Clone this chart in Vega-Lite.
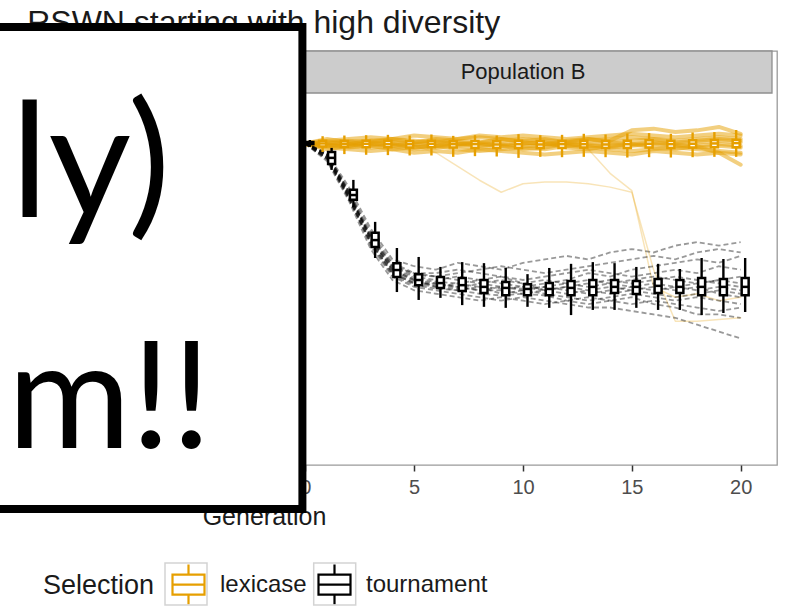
{
"$schema": "https://vega.github.io/schema/vega-lite/v6.json",
"width": 508, "height": 414,
"autosize": {"type": "none"},
"padding": {"left": 269, "top": 51, "right": 13, "bottom": 147},
"background": "white",
"config": {"view": {"stroke": "#9a9a9a", "strokeWidth": 1.3}},
"data": {"values": [{}]},
"datasets": {
"stats": [
{"sel":"tournament","gen":0,"lo":0.887,"q1":0.895,"med":0.898,"q3":0.901,"hi":0.907},
{"sel":"tournament","gen":1,"lo":0.820,"q1":0.837,"med":0.855,"q3":0.872,"hi":0.884},
{"sel":"tournament","gen":2,"lo":0.712,"q1":0.733,"med":0.747,"q3":0.762,"hi":0.791},
{"sel":"tournament","gen":3,"lo":0.564,"q1":0.596,"med":0.616,"q3":0.637,"hi":0.669},
{"sel":"tournament","gen":4,"lo":0.465,"q1":0.509,"med":0.529,"q3":0.549,"hi":0.593},
{"sel":"tournament","gen":5,"lo":0.442,"q1":0.485,"med":0.500,"q3":0.517,"hi":0.567},
{"sel":"tournament","gen":6,"lo":0.448,"q1":0.477,"med":0.491,"q3":0.509,"hi":0.538},
{"sel":"tournament","gen":7,"lo":0.427,"q1":0.468,"med":0.485,"q3":0.506,"hi":0.552},
{"sel":"tournament","gen":8,"lo":0.422,"q1":0.462,"med":0.480,"q3":0.500,"hi":0.549},
{"sel":"tournament","gen":9,"lo":0.419,"q1":0.456,"med":0.477,"q3":0.494,"hi":0.535},
{"sel":"tournament","gen":10,"lo":0.422,"q1":0.456,"med":0.474,"q3":0.488,"hi":0.517},
{"sel":"tournament","gen":11,"lo":0.419,"q1":0.456,"med":0.474,"q3":0.491,"hi":0.535},
{"sel":"tournament","gen":12,"lo":0.398,"q1":0.456,"med":0.477,"q3":0.497,"hi":0.547},
{"sel":"tournament","gen":13,"lo":0.413,"q1":0.456,"med":0.480,"q3":0.500,"hi":0.552},
{"sel":"tournament","gen":14,"lo":0.413,"q1":0.462,"med":0.480,"q3":0.500,"hi":0.549},
{"sel":"tournament","gen":15,"lo":0.419,"q1":0.459,"med":0.480,"q3":0.497,"hi":0.538},
{"sel":"tournament","gen":16,"lo":0.413,"q1":0.462,"med":0.483,"q3":0.503,"hi":0.547},
{"sel":"tournament","gen":17,"lo":0.413,"q1":0.462,"med":0.480,"q3":0.500,"hi":0.532},
{"sel":"tournament","gen":18,"lo":0.398,"q1":0.456,"med":0.480,"q3":0.506,"hi":0.564},
{"sel":"tournament","gen":19,"lo":0.404,"q1":0.456,"med":0.480,"q3":0.503,"hi":0.561},
{"sel":"tournament","gen":20,"lo":0.407,"q1":0.456,"med":0.480,"q3":0.506,"hi":0.564},
{"sel":"lexicase","gen":0,"lo":0.889,"q1":0.894,"med":0.897,"q3":0.900,"hi":0.905},
{"sel":"lexicase","gen":1,"lo":0.872,"q1":0.888,"med":0.897,"q3":0.905,"hi":0.918},
{"sel":"lexicase","gen":2,"lo":0.866,"q1":0.887,"med":0.896,"q3":0.904,"hi":0.920},
{"sel":"lexicase","gen":3,"lo":0.864,"q1":0.886,"med":0.896,"q3":0.905,"hi":0.921},
{"sel":"lexicase","gen":4,"lo":0.863,"q1":0.886,"med":0.895,"q3":0.905,"hi":0.922},
{"sel":"lexicase","gen":5,"lo":0.862,"q1":0.885,"med":0.895,"q3":0.904,"hi":0.920},
{"sel":"lexicase","gen":6,"lo":0.862,"q1":0.886,"med":0.896,"q3":0.905,"hi":0.923},
{"sel":"lexicase","gen":7,"lo":0.858,"q1":0.885,"med":0.895,"q3":0.903,"hi":0.919},
{"sel":"lexicase","gen":8,"lo":0.860,"q1":0.884,"med":0.895,"q3":0.904,"hi":0.921},
{"sel":"lexicase","gen":9,"lo":0.859,"q1":0.884,"med":0.894,"q3":0.903,"hi":0.920},
{"sel":"lexicase","gen":10,"lo":0.855,"q1":0.884,"med":0.895,"q3":0.905,"hi":0.924},
{"sel":"lexicase","gen":11,"lo":0.858,"q1":0.884,"med":0.894,"q3":0.904,"hi":0.921},
{"sel":"lexicase","gen":12,"lo":0.857,"q1":0.884,"med":0.895,"q3":0.904,"hi":0.922},
{"sel":"lexicase","gen":13,"lo":0.858,"q1":0.885,"med":0.895,"q3":0.905,"hi":0.925},
{"sel":"lexicase","gen":14,"lo":0.857,"q1":0.884,"med":0.894,"q3":0.904,"hi":0.923},
{"sel":"lexicase","gen":15,"lo":0.856,"q1":0.884,"med":0.895,"q3":0.905,"hi":0.926},
{"sel":"lexicase","gen":16,"lo":0.857,"q1":0.885,"med":0.896,"q3":0.906,"hi":0.927},
{"sel":"lexicase","gen":17,"lo":0.856,"q1":0.884,"med":0.895,"q3":0.905,"hi":0.925},
{"sel":"lexicase","gen":18,"lo":0.857,"q1":0.885,"med":0.896,"q3":0.906,"hi":0.929},
{"sel":"lexicase","gen":19,"lo":0.858,"q1":0.886,"med":0.897,"q3":0.907,"hi":0.930},
{"sel":"lexicase","gen":20,"lo":0.858,"q1":0.886,"med":0.898,"q3":0.908,"hi":0.936}
],
"lex": [
{"sel":"lexicase","run":1,"gen":0,"val":0.897},{"sel":"lexicase","run":1,"gen":1,"val":0.900},{"sel":"lexicase","run":1,"gen":2,"val":0.905},{"sel":"lexicase","run":1,"gen":3,"val":0.900},{"sel":"lexicase","run":1,"gen":4,"val":0.910},{"sel":"lexicase","run":1,"gen":5,"val":0.905},{"sel":"lexicase","run":1,"gen":6,"val":0.900},{"sel":"lexicase","run":1,"gen":7,"val":0.910},{"sel":"lexicase","run":1,"gen":8,"val":0.915},{"sel":"lexicase","run":1,"gen":9,"val":0.910},{"sel":"lexicase","run":1,"gen":10,"val":0.905},{"sel":"lexicase","run":1,"gen":11,"val":0.910},{"sel":"lexicase","run":1,"gen":12,"val":0.900},{"sel":"lexicase","run":1,"gen":13,"val":0.905},{"sel":"lexicase","run":1,"gen":14,"val":0.910},{"sel":"lexicase","run":1,"gen":15,"val":0.915},{"sel":"lexicase","run":1,"gen":16,"val":0.910},{"sel":"lexicase","run":1,"gen":17,"val":0.905},{"sel":"lexicase","run":1,"gen":18,"val":0.910},{"sel":"lexicase","run":1,"gen":19,"val":0.915},{"sel":"lexicase","run":1,"gen":20,"val":0.910},
{"sel":"lexicase","run":2,"gen":0,"val":0.895},{"sel":"lexicase","run":2,"gen":1,"val":0.890},{"sel":"lexicase","run":2,"gen":2,"val":0.885},{"sel":"lexicase","run":2,"gen":3,"val":0.890},{"sel":"lexicase","run":2,"gen":4,"val":0.880},{"sel":"lexicase","run":2,"gen":5,"val":0.885},{"sel":"lexicase","run":2,"gen":6,"val":0.890},{"sel":"lexicase","run":2,"gen":7,"val":0.880},{"sel":"lexicase","run":2,"gen":8,"val":0.875},{"sel":"lexicase","run":2,"gen":9,"val":0.880},{"sel":"lexicase","run":2,"gen":10,"val":0.885},{"sel":"lexicase","run":2,"gen":11,"val":0.880},{"sel":"lexicase","run":2,"gen":12,"val":0.890},{"sel":"lexicase","run":2,"gen":13,"val":0.885},{"sel":"lexicase","run":2,"gen":14,"val":0.880},{"sel":"lexicase","run":2,"gen":15,"val":0.875},{"sel":"lexicase","run":2,"gen":16,"val":0.880},{"sel":"lexicase","run":2,"gen":17,"val":0.885},{"sel":"lexicase","run":2,"gen":18,"val":0.880},{"sel":"lexicase","run":2,"gen":19,"val":0.875},{"sel":"lexicase","run":2,"gen":20,"val":0.870},
{"sel":"lexicase","run":3,"gen":0,"val":0.896},{"sel":"lexicase","run":3,"gen":1,"val":0.895},{"sel":"lexicase","run":3,"gen":2,"val":0.900},{"sel":"lexicase","run":3,"gen":3,"val":0.895},{"sel":"lexicase","run":3,"gen":4,"val":0.890},{"sel":"lexicase","run":3,"gen":5,"val":0.895},{"sel":"lexicase","run":3,"gen":6,"val":0.900},{"sel":"lexicase","run":3,"gen":7,"val":0.895},{"sel":"lexicase","run":3,"gen":8,"val":0.890},{"sel":"lexicase","run":3,"gen":9,"val":0.895},{"sel":"lexicase","run":3,"gen":10,"val":0.900},{"sel":"lexicase","run":3,"gen":11,"val":0.895},{"sel":"lexicase","run":3,"gen":12,"val":0.890},{"sel":"lexicase","run":3,"gen":13,"val":0.895},{"sel":"lexicase","run":3,"gen":14,"val":0.900},{"sel":"lexicase","run":3,"gen":15,"val":0.895},{"sel":"lexicase","run":3,"gen":16,"val":0.900},{"sel":"lexicase","run":3,"gen":17,"val":0.895},{"sel":"lexicase","run":3,"gen":18,"val":0.900},{"sel":"lexicase","run":3,"gen":19,"val":0.905},{"sel":"lexicase","run":3,"gen":20,"val":0.900},
{"sel":"lexicase","run":4,"gen":0,"val":0.894},{"sel":"lexicase","run":4,"gen":1,"val":0.885},{"sel":"lexicase","run":4,"gen":2,"val":0.880},{"sel":"lexicase","run":4,"gen":3,"val":0.875},{"sel":"lexicase","run":4,"gen":4,"val":0.880},{"sel":"lexicase","run":4,"gen":5,"val":0.870},{"sel":"lexicase","run":4,"gen":6,"val":0.875},{"sel":"lexicase","run":4,"gen":7,"val":0.870},{"sel":"lexicase","run":4,"gen":8,"val":0.880},{"sel":"lexicase","run":4,"gen":9,"val":0.875},{"sel":"lexicase","run":4,"gen":10,"val":0.870},{"sel":"lexicase","run":4,"gen":11,"val":0.865},{"sel":"lexicase","run":4,"gen":12,"val":0.870},{"sel":"lexicase","run":4,"gen":13,"val":0.875},{"sel":"lexicase","run":4,"gen":14,"val":0.870},{"sel":"lexicase","run":4,"gen":15,"val":0.865},{"sel":"lexicase","run":4,"gen":16,"val":0.875},{"sel":"lexicase","run":4,"gen":17,"val":0.870},{"sel":"lexicase","run":4,"gen":18,"val":0.865},{"sel":"lexicase","run":4,"gen":19,"val":0.870},{"sel":"lexicase","run":4,"gen":20,"val":0.865},
{"sel":"lexicase","run":5,"gen":0,"val":0.898},{"sel":"lexicase","run":5,"gen":1,"val":0.905},{"sel":"lexicase","run":5,"gen":2,"val":0.910},{"sel":"lexicase","run":5,"gen":3,"val":0.915},{"sel":"lexicase","run":5,"gen":4,"val":0.910},{"sel":"lexicase","run":5,"gen":5,"val":0.920},{"sel":"lexicase","run":5,"gen":6,"val":0.915},{"sel":"lexicase","run":5,"gen":7,"val":0.910},{"sel":"lexicase","run":5,"gen":8,"val":0.920},{"sel":"lexicase","run":5,"gen":9,"val":0.915},{"sel":"lexicase","run":5,"gen":10,"val":0.920},{"sel":"lexicase","run":5,"gen":11,"val":0.915},{"sel":"lexicase","run":5,"gen":12,"val":0.910},{"sel":"lexicase","run":5,"gen":13,"val":0.915},{"sel":"lexicase","run":5,"gen":14,"val":0.920},{"sel":"lexicase","run":5,"gen":15,"val":0.925},{"sel":"lexicase","run":5,"gen":16,"val":0.920},{"sel":"lexicase","run":5,"gen":17,"val":0.915},{"sel":"lexicase","run":5,"gen":18,"val":0.920},{"sel":"lexicase","run":5,"gen":19,"val":0.925},{"sel":"lexicase","run":5,"gen":20,"val":0.920},
{"sel":"lexicase","run":6,"gen":0,"val":0.895},{"sel":"lexicase","run":6,"gen":1,"val":0.890},{"sel":"lexicase","run":6,"gen":2,"val":0.895},{"sel":"lexicase","run":6,"gen":3,"val":0.885},{"sel":"lexicase","run":6,"gen":4,"val":0.890},{"sel":"lexicase","run":6,"gen":5,"val":0.880},{"sel":"lexicase","run":6,"gen":6,"val":0.885},{"sel":"lexicase","run":6,"gen":7,"val":0.890},{"sel":"lexicase","run":6,"gen":8,"val":0.885},{"sel":"lexicase","run":6,"gen":9,"val":0.890},{"sel":"lexicase","run":6,"gen":10,"val":0.880},{"sel":"lexicase","run":6,"gen":11,"val":0.885},{"sel":"lexicase","run":6,"gen":12,"val":0.895},{"sel":"lexicase","run":6,"gen":13,"val":0.890},{"sel":"lexicase","run":6,"gen":14,"val":0.885},{"sel":"lexicase","run":6,"gen":15,"val":0.890},{"sel":"lexicase","run":6,"gen":16,"val":0.895},{"sel":"lexicase","run":6,"gen":17,"val":0.890},{"sel":"lexicase","run":6,"gen":18,"val":0.885},{"sel":"lexicase","run":6,"gen":19,"val":0.890},{"sel":"lexicase","run":6,"gen":20,"val":0.885},
{"sel":"lexicase","run":7,"gen":0,"val":0.897},{"sel":"lexicase","run":7,"gen":1,"val":0.900},{"sel":"lexicase","run":7,"gen":2,"val":0.895},{"sel":"lexicase","run":7,"gen":3,"val":0.905},{"sel":"lexicase","run":7,"gen":4,"val":0.900},{"sel":"lexicase","run":7,"gen":5,"val":0.900},{"sel":"lexicase","run":7,"gen":6,"val":0.905},{"sel":"lexicase","run":7,"gen":7,"val":0.895},{"sel":"lexicase","run":7,"gen":8,"val":0.900},{"sel":"lexicase","run":7,"gen":9,"val":0.905},{"sel":"lexicase","run":7,"gen":10,"val":0.910},{"sel":"lexicase","run":7,"gen":11,"val":0.905},{"sel":"lexicase","run":7,"gen":12,"val":0.900},{"sel":"lexicase","run":7,"gen":13,"val":0.910},{"sel":"lexicase","run":7,"gen":14,"val":0.905},{"sel":"lexicase","run":7,"gen":15,"val":0.935},{"sel":"lexicase","run":7,"gen":16,"val":0.940},{"sel":"lexicase","run":7,"gen":17,"val":0.930},{"sel":"lexicase","run":7,"gen":18,"val":0.935},{"sel":"lexicase","run":7,"gen":19,"val":0.945},{"sel":"lexicase","run":7,"gen":20,"val":0.925},
{"sel":"lexicase","run":8,"gen":0,"val":0.896},{"sel":"lexicase","run":8,"gen":1,"val":0.893},{"sel":"lexicase","run":8,"gen":2,"val":0.888},{"sel":"lexicase","run":8,"gen":3,"val":0.893},{"sel":"lexicase","run":8,"gen":4,"val":0.898},{"sel":"lexicase","run":8,"gen":5,"val":0.893},{"sel":"lexicase","run":8,"gen":6,"val":0.888},{"sel":"lexicase","run":8,"gen":7,"val":0.893},{"sel":"lexicase","run":8,"gen":8,"val":0.898},{"sel":"lexicase","run":8,"gen":9,"val":0.893},{"sel":"lexicase","run":8,"gen":10,"val":0.888},{"sel":"lexicase","run":8,"gen":11,"val":0.893},{"sel":"lexicase","run":8,"gen":12,"val":0.898},{"sel":"lexicase","run":8,"gen":13,"val":0.893},{"sel":"lexicase","run":8,"gen":14,"val":0.888},{"sel":"lexicase","run":8,"gen":15,"val":0.893},{"sel":"lexicase","run":8,"gen":16,"val":0.898},{"sel":"lexicase","run":8,"gen":17,"val":0.893},{"sel":"lexicase","run":8,"gen":18,"val":0.888},{"sel":"lexicase","run":8,"gen":19,"val":0.870},{"sel":"lexicase","run":8,"gen":20,"val":0.835},
{"sel":"lexicase","run":9,"gen":0,"val":0.895},{"sel":"lexicase","run":9,"gen":1,"val":0.880},{"sel":"lexicase","run":9,"gen":2,"val":0.890},{"sel":"lexicase","run":9,"gen":3,"val":0.900},{"sel":"lexicase","run":9,"gen":4,"val":0.895},{"sel":"lexicase","run":9,"gen":5,"val":0.885},{"sel":"lexicase","run":9,"gen":6,"val":0.890},{"sel":"lexicase","run":9,"gen":7,"val":0.900},{"sel":"lexicase","run":9,"gen":8,"val":0.895},{"sel":"lexicase","run":9,"gen":9,"val":0.890},{"sel":"lexicase","run":9,"gen":10,"val":0.895},{"sel":"lexicase","run":9,"gen":11,"val":0.900},{"sel":"lexicase","run":9,"gen":12,"val":0.885},{"sel":"lexicase","run":9,"gen":13,"val":0.880},{"sel":"lexicase","run":9,"gen":14,"val":0.890},{"sel":"lexicase","run":9,"gen":15,"val":0.895},{"sel":"lexicase","run":9,"gen":16,"val":0.885},{"sel":"lexicase","run":9,"gen":17,"val":0.880},{"sel":"lexicase","run":9,"gen":18,"val":0.890},{"sel":"lexicase","run":9,"gen":19,"val":0.895},{"sel":"lexicase","run":9,"gen":20,"val":0.890},
{"sel":"lexicase","run":10,"gen":0,"val":0.897},{"sel":"lexicase","run":10,"gen":1,"val":0.910},{"sel":"lexicase","run":10,"gen":2,"val":0.900},{"sel":"lexicase","run":10,"gen":3,"val":0.905},{"sel":"lexicase","run":10,"gen":4,"val":0.910},{"sel":"lexicase","run":10,"gen":5,"val":0.900},{"sel":"lexicase","run":10,"gen":6,"val":0.910},{"sel":"lexicase","run":10,"gen":7,"val":0.905},{"sel":"lexicase","run":10,"gen":8,"val":0.900},{"sel":"lexicase","run":10,"gen":9,"val":0.910},{"sel":"lexicase","run":10,"gen":10,"val":0.900},{"sel":"lexicase","run":10,"gen":11,"val":0.895},{"sel":"lexicase","run":10,"gen":12,"val":0.905},{"sel":"lexicase","run":10,"gen":13,"val":0.910},{"sel":"lexicase","run":10,"gen":14,"val":0.900},{"sel":"lexicase","run":10,"gen":15,"val":0.905},{"sel":"lexicase","run":10,"gen":16,"val":0.910},{"sel":"lexicase","run":10,"gen":17,"val":0.900},{"sel":"lexicase","run":10,"gen":18,"val":0.905},{"sel":"lexicase","run":10,"gen":19,"val":0.910},{"sel":"lexicase","run":10,"gen":20,"val":0.905},
{"sel":"lexicase","run":11,"gen":0,"val":0.896},{"sel":"lexicase","run":11,"gen":1,"val":0.895},{"sel":"lexicase","run":11,"gen":2,"val":0.890},{"sel":"lexicase","run":11,"gen":3,"val":0.895},{"sel":"lexicase","run":11,"gen":4,"val":0.890},{"sel":"lexicase","run":11,"gen":5,"val":0.890},{"sel":"lexicase","run":11,"gen":6,"val":0.870},{"sel":"lexicase","run":11,"gen":7,"val":0.830},{"sel":"lexicase","run":11,"gen":8,"val":0.790},{"sel":"lexicase","run":11,"gen":9,"val":0.755},{"sel":"lexicase","run":11,"gen":10,"val":0.780},{"sel":"lexicase","run":11,"gen":11,"val":0.785},{"sel":"lexicase","run":11,"gen":12,"val":0.785},{"sel":"lexicase","run":11,"gen":13,"val":0.780},{"sel":"lexicase","run":11,"gen":14,"val":0.770},{"sel":"lexicase","run":11,"gen":15,"val":0.755},{"sel":"lexicase","run":11,"gen":16,"val":0.530},{"sel":"lexicase","run":11,"gen":17,"val":0.380},{"sel":"lexicase","run":11,"gen":18,"val":0.380},{"sel":"lexicase","run":11,"gen":19,"val":0.385},{"sel":"lexicase","run":11,"gen":20,"val":0.390},
{"sel":"lexicase","run":12,"gen":0,"val":0.895},{"sel":"lexicase","run":12,"gen":1,"val":0.890},{"sel":"lexicase","run":12,"gen":2,"val":0.895},{"sel":"lexicase","run":12,"gen":3,"val":0.890},{"sel":"lexicase","run":12,"gen":4,"val":0.895},{"sel":"lexicase","run":12,"gen":5,"val":0.890},{"sel":"lexicase","run":12,"gen":6,"val":0.895},{"sel":"lexicase","run":12,"gen":7,"val":0.890},{"sel":"lexicase","run":12,"gen":8,"val":0.895},{"sel":"lexicase","run":12,"gen":9,"val":0.890},{"sel":"lexicase","run":12,"gen":10,"val":0.895},{"sel":"lexicase","run":12,"gen":11,"val":0.890},{"sel":"lexicase","run":12,"gen":12,"val":0.895},{"sel":"lexicase","run":12,"gen":13,"val":0.880},{"sel":"lexicase","run":12,"gen":14,"val":0.810},{"sel":"lexicase","run":12,"gen":15,"val":0.760},{"sel":"lexicase","run":12,"gen":16,"val":0.480},{"sel":"lexicase","run":12,"gen":17,"val":0.450},{"sel":"lexicase","run":12,"gen":18,"val":0.460},{"sel":"lexicase","run":12,"gen":19,"val":0.440},{"sel":"lexicase","run":12,"gen":20,"val":0.450}
],
"tour": [
{"sel":"tournament","run":1,"gen":0,"val":0.898},{"sel":"tournament","run":1,"gen":1,"val":0.862},{"sel":"tournament","run":1,"gen":2,"val":0.752},{"sel":"tournament","run":1,"gen":3,"val":0.620},{"sel":"tournament","run":1,"gen":4,"val":0.530},{"sel":"tournament","run":1,"gen":5,"val":0.500},{"sel":"tournament","run":1,"gen":6,"val":0.490},{"sel":"tournament","run":1,"gen":7,"val":0.480},{"sel":"tournament","run":1,"gen":8,"val":0.470},{"sel":"tournament","run":1,"gen":9,"val":0.470},{"sel":"tournament","run":1,"gen":10,"val":0.460},{"sel":"tournament","run":1,"gen":11,"val":0.470},{"sel":"tournament","run":1,"gen":12,"val":0.480},{"sel":"tournament","run":1,"gen":13,"val":0.490},{"sel":"tournament","run":1,"gen":14,"val":0.500},{"sel":"tournament","run":1,"gen":15,"val":0.490},{"sel":"tournament","run":1,"gen":16,"val":0.500},{"sel":"tournament","run":1,"gen":17,"val":0.510},{"sel":"tournament","run":1,"gen":18,"val":0.500},{"sel":"tournament","run":1,"gen":19,"val":0.490},{"sel":"tournament","run":1,"gen":20,"val":0.480},
{"sel":"tournament","run":2,"gen":0,"val":0.897},{"sel":"tournament","run":2,"gen":1,"val":0.855},{"sel":"tournament","run":2,"gen":2,"val":0.740},{"sel":"tournament","run":2,"gen":3,"val":0.600},{"sel":"tournament","run":2,"gen":4,"val":0.510},{"sel":"tournament","run":2,"gen":5,"val":0.480},{"sel":"tournament","run":2,"gen":6,"val":0.470},{"sel":"tournament","run":2,"gen":7,"val":0.460},{"sel":"tournament","run":2,"gen":8,"val":0.450},{"sel":"tournament","run":2,"gen":9,"val":0.440},{"sel":"tournament","run":2,"gen":10,"val":0.450},{"sel":"tournament","run":2,"gen":11,"val":0.440},{"sel":"tournament","run":2,"gen":12,"val":0.430},{"sel":"tournament","run":2,"gen":13,"val":0.420},{"sel":"tournament","run":2,"gen":14,"val":0.420},{"sel":"tournament","run":2,"gen":15,"val":0.410},{"sel":"tournament","run":2,"gen":16,"val":0.400},{"sel":"tournament","run":2,"gen":17,"val":0.390},{"sel":"tournament","run":2,"gen":18,"val":0.370},{"sel":"tournament","run":2,"gen":19,"val":0.350},{"sel":"tournament","run":2,"gen":20,"val":0.330},
{"sel":"tournament","run":3,"gen":0,"val":0.899},{"sel":"tournament","run":3,"gen":1,"val":0.868},{"sel":"tournament","run":3,"gen":2,"val":0.770},{"sel":"tournament","run":3,"gen":3,"val":0.650},{"sel":"tournament","run":3,"gen":4,"val":0.560},{"sel":"tournament","run":3,"gen":5,"val":0.540},{"sel":"tournament","run":3,"gen":6,"val":0.530},{"sel":"tournament","run":3,"gen":7,"val":0.550},{"sel":"tournament","run":3,"gen":8,"val":0.540},{"sel":"tournament","run":3,"gen":9,"val":0.530},{"sel":"tournament","run":3,"gen":10,"val":0.550},{"sel":"tournament","run":3,"gen":11,"val":0.560},{"sel":"tournament","run":3,"gen":12,"val":0.570},{"sel":"tournament","run":3,"gen":13,"val":0.560},{"sel":"tournament","run":3,"gen":14,"val":0.580},{"sel":"tournament","run":3,"gen":15,"val":0.590},{"sel":"tournament","run":3,"gen":16,"val":0.580},{"sel":"tournament","run":3,"gen":17,"val":0.600},{"sel":"tournament","run":3,"gen":18,"val":0.610},{"sel":"tournament","run":3,"gen":19,"val":0.600},{"sel":"tournament","run":3,"gen":20,"val":0.610},
{"sel":"tournament","run":4,"gen":0,"val":0.896},{"sel":"tournament","run":4,"gen":1,"val":0.850},{"sel":"tournament","run":4,"gen":2,"val":0.735},{"sel":"tournament","run":4,"gen":3,"val":0.610},{"sel":"tournament","run":4,"gen":4,"val":0.520},{"sel":"tournament","run":4,"gen":5,"val":0.490},{"sel":"tournament","run":4,"gen":6,"val":0.480},{"sel":"tournament","run":4,"gen":7,"val":0.470},{"sel":"tournament","run":4,"gen":8,"val":0.480},{"sel":"tournament","run":4,"gen":9,"val":0.460},{"sel":"tournament","run":4,"gen":10,"val":0.470},{"sel":"tournament","run":4,"gen":11,"val":0.480},{"sel":"tournament","run":4,"gen":12,"val":0.470},{"sel":"tournament","run":4,"gen":13,"val":0.460},{"sel":"tournament","run":4,"gen":14,"val":0.470},{"sel":"tournament","run":4,"gen":15,"val":0.480},{"sel":"tournament","run":4,"gen":16,"val":0.490},{"sel":"tournament","run":4,"gen":17,"val":0.480},{"sel":"tournament","run":4,"gen":18,"val":0.470},{"sel":"tournament","run":4,"gen":19,"val":0.480},{"sel":"tournament","run":4,"gen":20,"val":0.470},
{"sel":"tournament","run":5,"gen":0,"val":0.898},{"sel":"tournament","run":5,"gen":1,"val":0.860},{"sel":"tournament","run":5,"gen":2,"val":0.745},{"sel":"tournament","run":5,"gen":3,"val":0.630},{"sel":"tournament","run":5,"gen":4,"val":0.540},{"sel":"tournament","run":5,"gen":5,"val":0.510},{"sel":"tournament","run":5,"gen":6,"val":0.500},{"sel":"tournament","run":5,"gen":7,"val":0.510},{"sel":"tournament","run":5,"gen":8,"val":0.500},{"sel":"tournament","run":5,"gen":9,"val":0.490},{"sel":"tournament","run":5,"gen":10,"val":0.480},{"sel":"tournament","run":5,"gen":11,"val":0.490},{"sel":"tournament","run":5,"gen":12,"val":0.500},{"sel":"tournament","run":5,"gen":13,"val":0.520},{"sel":"tournament","run":5,"gen":14,"val":0.510},{"sel":"tournament","run":5,"gen":15,"val":0.530},{"sel":"tournament","run":5,"gen":16,"val":0.540},{"sel":"tournament","run":5,"gen":17,"val":0.550},{"sel":"tournament","run":5,"gen":18,"val":0.560},{"sel":"tournament","run":5,"gen":19,"val":0.550},{"sel":"tournament","run":5,"gen":20,"val":0.570},
{"sel":"tournament","run":6,"gen":0,"val":0.897},{"sel":"tournament","run":6,"gen":1,"val":0.845},{"sel":"tournament","run":6,"gen":2,"val":0.730},{"sel":"tournament","run":6,"gen":3,"val":0.590},{"sel":"tournament","run":6,"gen":4,"val":0.500},{"sel":"tournament","run":6,"gen":5,"val":0.470},{"sel":"tournament","run":6,"gen":6,"val":0.460},{"sel":"tournament","run":6,"gen":7,"val":0.450},{"sel":"tournament","run":6,"gen":8,"val":0.440},{"sel":"tournament","run":6,"gen":9,"val":0.450},{"sel":"tournament","run":6,"gen":10,"val":0.440},{"sel":"tournament","run":6,"gen":11,"val":0.430},{"sel":"tournament","run":6,"gen":12,"val":0.440},{"sel":"tournament","run":6,"gen":13,"val":0.450},{"sel":"tournament","run":6,"gen":14,"val":0.440},{"sel":"tournament","run":6,"gen":15,"val":0.430},{"sel":"tournament","run":6,"gen":16,"val":0.440},{"sel":"tournament","run":6,"gen":17,"val":0.430},{"sel":"tournament","run":6,"gen":18,"val":0.420},{"sel":"tournament","run":6,"gen":19,"val":0.410},{"sel":"tournament","run":6,"gen":20,"val":0.420},
{"sel":"tournament","run":7,"gen":0,"val":0.899},{"sel":"tournament","run":7,"gen":1,"val":0.865},{"sel":"tournament","run":7,"gen":2,"val":0.760},{"sel":"tournament","run":7,"gen":3,"val":0.640},{"sel":"tournament","run":7,"gen":4,"val":0.550},{"sel":"tournament","run":7,"gen":5,"val":0.520},{"sel":"tournament","run":7,"gen":6,"val":0.510},{"sel":"tournament","run":7,"gen":7,"val":0.500},{"sel":"tournament","run":7,"gen":8,"val":0.490},{"sel":"tournament","run":7,"gen":9,"val":0.500},{"sel":"tournament","run":7,"gen":10,"val":0.490},{"sel":"tournament","run":7,"gen":11,"val":0.470},{"sel":"tournament","run":7,"gen":12,"val":0.460},{"sel":"tournament","run":7,"gen":13,"val":0.470},{"sel":"tournament","run":7,"gen":14,"val":0.480},{"sel":"tournament","run":7,"gen":15,"val":0.470},{"sel":"tournament","run":7,"gen":16,"val":0.460},{"sel":"tournament","run":7,"gen":17,"val":0.450},{"sel":"tournament","run":7,"gen":18,"val":0.460},{"sel":"tournament","run":7,"gen":19,"val":0.470},{"sel":"tournament","run":7,"gen":20,"val":0.460},
{"sel":"tournament","run":8,"gen":0,"val":0.898},{"sel":"tournament","run":8,"gen":1,"val":0.858},{"sel":"tournament","run":8,"gen":2,"val":0.750},{"sel":"tournament","run":8,"gen":3,"val":0.620},{"sel":"tournament","run":8,"gen":4,"val":0.530},{"sel":"tournament","run":8,"gen":5,"val":0.500},{"sel":"tournament","run":8,"gen":6,"val":0.480},{"sel":"tournament","run":8,"gen":7,"val":0.490},{"sel":"tournament","run":8,"gen":8,"val":0.500},{"sel":"tournament","run":8,"gen":9,"val":0.510},{"sel":"tournament","run":8,"gen":10,"val":0.500},{"sel":"tournament","run":8,"gen":11,"val":0.510},{"sel":"tournament","run":8,"gen":12,"val":0.520},{"sel":"tournament","run":8,"gen":13,"val":0.530},{"sel":"tournament","run":8,"gen":14,"val":0.520},{"sel":"tournament","run":8,"gen":15,"val":0.510},{"sel":"tournament","run":8,"gen":16,"val":0.520},{"sel":"tournament","run":8,"gen":17,"val":0.530},{"sel":"tournament","run":8,"gen":18,"val":0.520},{"sel":"tournament","run":8,"gen":19,"val":0.540},{"sel":"tournament","run":8,"gen":20,"val":0.530},
{"sel":"tournament","run":9,"gen":0,"val":0.896},{"sel":"tournament","run":9,"gen":1,"val":0.852},{"sel":"tournament","run":9,"gen":2,"val":0.740},{"sel":"tournament","run":9,"gen":3,"val":0.610},{"sel":"tournament","run":9,"gen":4,"val":0.520},{"sel":"tournament","run":9,"gen":5,"val":0.490},{"sel":"tournament","run":9,"gen":6,"val":0.490},{"sel":"tournament","run":9,"gen":7,"val":0.480},{"sel":"tournament","run":9,"gen":8,"val":0.470},{"sel":"tournament","run":9,"gen":9,"val":0.480},{"sel":"tournament","run":9,"gen":10,"val":0.470},{"sel":"tournament","run":9,"gen":11,"val":0.460},{"sel":"tournament","run":9,"gen":12,"val":0.450},{"sel":"tournament","run":9,"gen":13,"val":0.440},{"sel":"tournament","run":9,"gen":14,"val":0.450},{"sel":"tournament","run":9,"gen":15,"val":0.460},{"sel":"tournament","run":9,"gen":16,"val":0.450},{"sel":"tournament","run":9,"gen":17,"val":0.440},{"sel":"tournament","run":9,"gen":18,"val":0.450},{"sel":"tournament","run":9,"gen":19,"val":0.440},{"sel":"tournament","run":9,"gen":20,"val":0.430},
{"sel":"tournament","run":10,"gen":0,"val":0.899},{"sel":"tournament","run":10,"gen":1,"val":0.866},{"sel":"tournament","run":10,"gen":2,"val":0.755},{"sel":"tournament","run":10,"gen":3,"val":0.625},{"sel":"tournament","run":10,"gen":4,"val":0.540},{"sel":"tournament","run":10,"gen":5,"val":0.520},{"sel":"tournament","run":10,"gen":6,"val":0.520},{"sel":"tournament","run":10,"gen":7,"val":0.530},{"sel":"tournament","run":10,"gen":8,"val":0.520},{"sel":"tournament","run":10,"gen":9,"val":0.510},{"sel":"tournament","run":10,"gen":10,"val":0.490},{"sel":"tournament","run":10,"gen":11,"val":0.500},{"sel":"tournament","run":10,"gen":12,"val":0.490},{"sel":"tournament","run":10,"gen":13,"val":0.480},{"sel":"tournament","run":10,"gen":14,"val":0.490},{"sel":"tournament","run":10,"gen":15,"val":0.500},{"sel":"tournament","run":10,"gen":16,"val":0.510},{"sel":"tournament","run":10,"gen":17,"val":0.500},{"sel":"tournament","run":10,"gen":18,"val":0.490},{"sel":"tournament","run":10,"gen":19,"val":0.500},{"sel":"tournament","run":10,"gen":20,"val":0.510},
{"sel":"tournament","run":11,"gen":0,"val":0.897},{"sel":"tournament","run":11,"gen":1,"val":0.856},{"sel":"tournament","run":11,"gen":2,"val":0.745},{"sel":"tournament","run":11,"gen":3,"val":0.615},{"sel":"tournament","run":11,"gen":4,"val":0.525},{"sel":"tournament","run":11,"gen":5,"val":0.495},{"sel":"tournament","run":11,"gen":6,"val":0.485},{"sel":"tournament","run":11,"gen":7,"val":0.475},{"sel":"tournament","run":11,"gen":8,"val":0.490},{"sel":"tournament","run":11,"gen":9,"val":0.480},{"sel":"tournament","run":11,"gen":10,"val":0.475},{"sel":"tournament","run":11,"gen":11,"val":0.480},{"sel":"tournament","run":11,"gen":12,"val":0.490},{"sel":"tournament","run":11,"gen":13,"val":0.500},{"sel":"tournament","run":11,"gen":14,"val":0.490},{"sel":"tournament","run":11,"gen":15,"val":0.480},{"sel":"tournament","run":11,"gen":16,"val":0.470},{"sel":"tournament","run":11,"gen":17,"val":0.480},{"sel":"tournament","run":11,"gen":18,"val":0.490},{"sel":"tournament","run":11,"gen":19,"val":0.500},{"sel":"tournament","run":11,"gen":20,"val":0.490},
{"sel":"tournament","run":12,"gen":0,"val":0.898},{"sel":"tournament","run":12,"gen":1,"val":0.861},{"sel":"tournament","run":12,"gen":2,"val":0.748},{"sel":"tournament","run":12,"gen":3,"val":0.620},{"sel":"tournament","run":12,"gen":4,"val":0.535},{"sel":"tournament","run":12,"gen":5,"val":0.505},{"sel":"tournament","run":12,"gen":6,"val":0.495},{"sel":"tournament","run":12,"gen":7,"val":0.490},{"sel":"tournament","run":12,"gen":8,"val":0.480},{"sel":"tournament","run":12,"gen":9,"val":0.475},{"sel":"tournament","run":12,"gen":10,"val":0.480},{"sel":"tournament","run":12,"gen":11,"val":0.470},{"sel":"tournament","run":12,"gen":12,"val":0.480},{"sel":"tournament","run":12,"gen":13,"val":0.470},{"sel":"tournament","run":12,"gen":14,"val":0.460},{"sel":"tournament","run":12,"gen":15,"val":0.470},{"sel":"tournament","run":12,"gen":16,"val":0.480},{"sel":"tournament","run":12,"gen":17,"val":0.470},{"sel":"tournament","run":12,"gen":18,"val":0.480},{"sel":"tournament","run":12,"gen":19,"val":0.460},{"sel":"tournament","run":12,"gen":20,"val":0.450},
{"sel":"tournament","run":13,"gen":0,"val":0.897},{"sel":"tournament","run":13,"gen":1,"val":0.853},{"sel":"tournament","run":13,"gen":2,"val":0.738},{"sel":"tournament","run":13,"gen":3,"val":0.605},{"sel":"tournament","run":13,"gen":4,"val":0.515},{"sel":"tournament","run":13,"gen":5,"val":0.485},{"sel":"tournament","run":13,"gen":6,"val":0.475},{"sel":"tournament","run":13,"gen":7,"val":0.470},{"sel":"tournament","run":13,"gen":8,"val":0.460},{"sel":"tournament","run":13,"gen":9,"val":0.455},{"sel":"tournament","run":13,"gen":10,"val":0.460},{"sel":"tournament","run":13,"gen":11,"val":0.455},{"sel":"tournament","run":13,"gen":12,"val":0.440},{"sel":"tournament","run":13,"gen":13,"val":0.430},{"sel":"tournament","run":13,"gen":14,"val":0.440},{"sel":"tournament","run":13,"gen":15,"val":0.450},{"sel":"tournament","run":13,"gen":16,"val":0.430},{"sel":"tournament","run":13,"gen":17,"val":0.420},{"sel":"tournament","run":13,"gen":18,"val":0.400},{"sel":"tournament","run":13,"gen":19,"val":0.400},{"sel":"tournament","run":13,"gen":20,"val":0.390},
{"sel":"tournament","run":14,"gen":0,"val":0.899},{"sel":"tournament","run":14,"gen":1,"val":0.864},{"sel":"tournament","run":14,"gen":2,"val":0.758},{"sel":"tournament","run":14,"gen":3,"val":0.630},{"sel":"tournament","run":14,"gen":4,"val":0.545},{"sel":"tournament","run":14,"gen":5,"val":0.515},{"sel":"tournament","run":14,"gen":6,"val":0.510},{"sel":"tournament","run":14,"gen":7,"val":0.520},{"sel":"tournament","run":14,"gen":8,"val":0.530},{"sel":"tournament","run":14,"gen":9,"val":0.540},{"sel":"tournament","run":14,"gen":10,"val":0.530},{"sel":"tournament","run":14,"gen":11,"val":0.520},{"sel":"tournament","run":14,"gen":12,"val":0.530},{"sel":"tournament","run":14,"gen":13,"val":0.540},{"sel":"tournament","run":14,"gen":14,"val":0.550},{"sel":"tournament","run":14,"gen":15,"val":0.560},{"sel":"tournament","run":14,"gen":16,"val":0.570},{"sel":"tournament","run":14,"gen":17,"val":0.560},{"sel":"tournament","run":14,"gen":18,"val":0.580},{"sel":"tournament","run":14,"gen":19,"val":0.590},{"sel":"tournament","run":14,"gen":20,"val":0.580}
]
},
"layer": [
{
"mark": {"type": "rect", "fill": "#cccccc", "stroke": "#8f8f8f", "strokeWidth": 1.3},
"encoding": {
"x": {"datum": -1.44, "type": "quantitative",
 "scale": {"domain": [-1.44, 21.44], "nice": false, "zero": false},
 "axis": {"title": "Generation", "values": [0, 2.5, 5, 7.5, 10, 12.5, 15, 17.5, 20],
  "labelExpr": "datum.value % 5 === 0 ? datum.label : ''", "labelOverlap": false, "labelFlush": false,
  "domain": false, "tickSize": 6, "tickWidth": 1.5, "tickColor": "#333333",
  "tickOpacity": {"condition": {"test": "datum.value % 5 !== 0", "value": 0}, "value": 1},
  "labelFont": "Liberation Sans", "labelFontSize": 20, "labelColor": "#4d4d4d", "labelPadding": 6,
  "titleFont": "Liberation Sans", "titleFontSize": 25, "titleFontWeight": "normal", "titleColor": "#1a1a1a",
  "titleX": -5, "titleY": 59, "titleBaseline": "alphabetic", "titleAnchor": null,
  "gridColor": {"condition": {"test": "datum.value % 5 === 0", "value": "#e2e2e2"}, "value": "#f0f0f0"},
  "gridWidth": {"condition": {"test": "datum.value % 5 === 0", "value": 1.2}, "value": 0.8}}},
"x2": {"datum": 21.44},
"y": {"datum": 1.0436, "type": "quantitative",
 "scale": {"domain": [-0.0378, 1.1657], "nice": false, "zero": false},
 "axis": {"title": null, "values": [0, 0.125, 0.25, 0.375, 0.5, 0.625, 0.75, 0.875, 1],
  "labels": false, "ticks": false, "domain": false,
  "gridColor": {"condition": {"test": "datum.value % 0.25 === 0", "value": "#e2e2e2"}, "value": "#f0f0f0"},
  "gridWidth": {"condition": {"test": "datum.value % 0.25 === 0", "value": 1.2}, "value": 0.8}}},
"y2": {"datum": 1.1657}
}
},
{
"mark": {"type": "text", "text": "Population B", "font": "Liberation Sans", "fontSize": 22, "fill": "#1a1a1a", "baseline": "middle", "align": "center"},
"encoding": {"x": {"datum": 10, "type": "quantitative"}, "y": {"datum": 1.1047, "type": "quantitative"}}
},
{
"data": {"name": "lex"},
"mark": {"type": "line", "strokeCap": "round", "strokeJoin": "round"},
"encoding": {
"x": {"field": "gen", "type": "quantitative"},
"y": {"field": "val", "type": "quantitative"},
"detail": {"field": "run", "type": "nominal"},
"stroke": {"field": "sel", "type": "nominal",
 "scale": {"range": ["#E69F00", "#000000"]},
 "legend": {"title": "Selection", "orient": "none", "legendX": -226, "legendY": 512, "direction": "horizontal",
  "titleOrient": "left", "titleFont": "Liberation Sans", "titleFontSize": 27, "titleFontWeight": "normal", "titleColor": "#1a1a1a",
  "titlePadding": 12, "titleBaseline": "middle",
  "labelFont": "Liberation Sans", "labelFontSize": 24, "labelColor": "#1a1a1a", "labelOffset": 10, "columnPadding": 6,
  "symbolType": "M0,-1V-0.5M-0.8,-0.5H0.8V0.5H-0.8ZM-0.8,0H0.8M0,0.5V1", "symbolSize": 1600, "symbolStrokeWidth": 2.2,
  "symbolFillColor": "transparent", "symbolOpacity": 1, "symbolDash": []}},
"strokeOpacity": {"condition": {"test": "datum.run > 10", "value": 0.28}, "value": 0.5},
"strokeWidth": {"condition": {"test": "datum.run > 10", "value": 1.5}, "value": 4}
}
},
{
"data": {"name": "tour"},
"mark": {"type": "line", "strokeDash": [5, 3], "strokeWidth": 1.8, "strokeOpacity": 0.4},
"encoding": {
"x": {"field": "gen", "type": "quantitative"},
"y": {"field": "val", "type": "quantitative"},
"detail": {"field": "run", "type": "nominal"},
"stroke": {"field": "sel", "type": "nominal"}
}
},
{
"data": {"name": "stats"},
"mark": {"type": "rule", "strokeWidth": 2.4, "xOffset": {"expr": "datum.sel === 'lexicase' ? -4.5 : 4.5"}},
"encoding": {
"x": {"field": "gen", "type": "quantitative"},
"y": {"field": "lo", "type": "quantitative"},
"y2": {"field": "hi"},
"stroke": {"field": "sel", "type": "nominal"}
}
},
{
"data": {"name": "stats"},
"mark": {"type": "bar", "size": 7, "fill": "white", "strokeWidth": 2.5, "xOffset": {"expr": "datum.sel === 'lexicase' ? -4.5 : 4.5"}},
"encoding": {
"x": {"field": "gen", "type": "quantitative"},
"y": {"field": "q1", "type": "quantitative"},
"y2": {"field": "q3"},
"stroke": {"field": "sel", "type": "nominal"}
}
},
{
"data": {"name": "stats"},
"mark": {"type": "point", "shape": "stroke", "size": 64, "filled": false, "strokeWidth": 2.5, "opacity": 1, "xOffset": {"expr": "datum.sel === 'lexicase' ? -4.5 : 4.5"}},
"encoding": {
"x": {"field": "gen", "type": "quantitative"},
"y": {"field": "med", "type": "quantitative"},
"stroke": {"field": "sel", "type": "nominal"}
}
},
{
"data": {"name": "stats"},
"mark": {"type": "point", "size": 0, "filled": false},
"encoding": {
"x": {"field": "gen", "type": "quantitative"},
"y": {"field": "med", "type": "quantitative"},
"shape": {"field": "sel", "type": "nominal",
 "scale": {"domain": ["lexicase", "tournament"], "range": ["square", "square"]},
 "legend": {"title": null, "orient": "none", "legendX": -105, "legendY": 511, "direction": "horizontal",
  "labelExpr": "''", "labelFontSize": 1, "labelOffset": 0, "columnPadding": 100.7,
  "symbolSize": 1764, "symbolStrokeWidth": 1.5, "symbolStrokeColor": "#d3d3d3",
  "symbolFillColor": "transparent", "symbolOpacity": 1, "symbolDash": []}}
}
},
{
"mark": {"type": "text", "text": "RSWN starting with high diversity", "font": "Liberation Sans", "fontSize": 32, "fill": "#1a1a1a", "align": "left", "baseline": "alphabetic"},
"encoding": {"x": {"datum": -12.78, "type": "quantitative"}, "y": {"datum": 1.218, "type": "quantitative"}}
},
{
"mark": {"type": "rect", "fill": "white", "stroke": "black", "strokeWidth": 8},
"encoding": {"x": {"datum": -20, "type": "quantitative"}, "x2": {"datum": -0.135}, "y": {"datum": -0.1657, "type": "quantitative"}, "y2": {"datum": 1.2355}}
},
{
"mark": {"type": "text", "text": "ly)", "font": "Lato", "fontSize": 160, "fill": "black", "align": "right", "baseline": "alphabetic"},
"encoding": {"x": {"datum": -6.2, "type": "quantitative"}, "y": {"datum": 0.683, "type": "quantitative"}}
},
{
"mark": {"type": "text", "text": "m!!", "font": "Lato", "fontSize": 150, "fill": "black", "align": "right", "baseline": "alphabetic"},
"encoding": {"x": {"datum": -4.31, "type": "quantitative"}, "y": {"datum": 0.0116, "type": "quantitative"}}
}
]
}
